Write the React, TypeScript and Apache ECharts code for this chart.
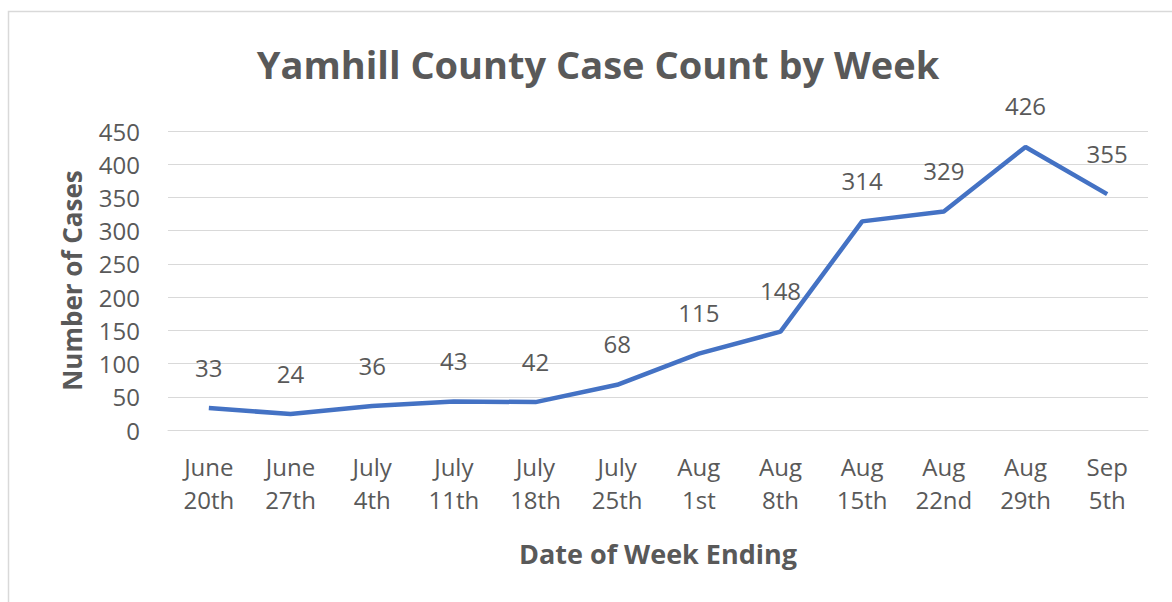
import React, { useEffect, useRef } from "react";
import * as echarts from "echarts";

const categories = [
  "June\n20th", "June\n27th", "July\n4th", "July\n11th", "July\n18th", "July\n25th",
  "Aug\n1st", "Aug\n8th", "Aug\n15th", "Aug\n22nd", "Aug\n29th", "Sep\n5th",
];
const caseCounts = [33, 24, 36, 43, 42, 68, 115, 148, 314, 329, 426, 355];
const yTicks = { min: 0, max: 450, interval: 50 };

const FONT = "'Open Sans', 'Noto Sans', sans-serif";
const GRAY = "#595959";

export default function App() {
  const ref = useRef<HTMLDivElement>(null);
  useEffect(() => {
    if (!ref.current) return;
    const chart = echarts.init(ref.current, null, { renderer: "svg" });
    chart.setOption({
      animation: false,
      backgroundColor: "#ffffff",
      textStyle: { fontFamily: FONT },
      title: {
        text: "Yamhill County Case Count by Week",
        left: 593,
        textAlign: "center",
        top: 40,
        textStyle: { fontFamily: FONT, fontSize: 38, fontWeight: "bold", color: GRAY },
      },
      graphic: [
        {
          type: "rect",
          shape: { x: 8.5, y: 11.5, width: 1300, height: 800 },
          style: { fill: "none", stroke: "#d9d9d9", lineWidth: 1.5 },
          silent: true,
        },
      ],
      grid: { left: 168, right: 24, top: 131, height: 299, containLabel: false },
      xAxis: {
        type: "category",
        data: categories,
        boundaryGap: true,
        axisLine: { show: true, lineStyle: { color: "#d9d9d9", width: 1 } },
        axisTick: { show: false },
        axisLabel: {
          color: GRAY,
          fontSize: 24,
          lineHeight: 33,
          margin: 20,
          interval: 0,
          fontFamily: FONT,
        },
        name: "Date of Week Ending",
        nameLocation: "middle",
        nameGap: 110,
        nameTextStyle: { fontFamily: FONT, fontSize: 27, fontWeight: "bold", color: GRAY },
      },
      yAxis: {
        type: "value",
        min: yTicks.min,
        max: yTicks.max,
        interval: yTicks.interval,
        axisLine: { show: false },
        axisTick: { show: false },
        splitLine: { lineStyle: { color: "#d9d9d9", width: 1 } },
        axisLabel: { color: GRAY, fontSize: 24, margin: 28, fontFamily: FONT },
        name: "Number of Cases",
        nameLocation: "middle",
        nameGap: 83,
        nameRotate: 90,
        nameTextStyle: { fontFamily: FONT, fontSize: 26, fontWeight: "bold", color: GRAY },
      },
      series: [
        {
          type: "line",
          data: caseCounts,
          symbol: "circle",
          symbolSize: 0.1,
          showSymbol: true,
          lineStyle: { color: "#4472C4", width: 4.5 },
          itemStyle: { color: "#4472C4" },
          label: {
            show: true,
            position: "top",
            distance: 29,
            color: GRAY,
            fontSize: 24,
            fontFamily: FONT,
          },
        },
      ],
    });
    return () => chart.dispose();
  }, []);
  return (
    <div
      ref={ref}
      style={{ position: "absolute", left: 0, top: 0, width: 1172, height: 602 }}
    />
  );
}
